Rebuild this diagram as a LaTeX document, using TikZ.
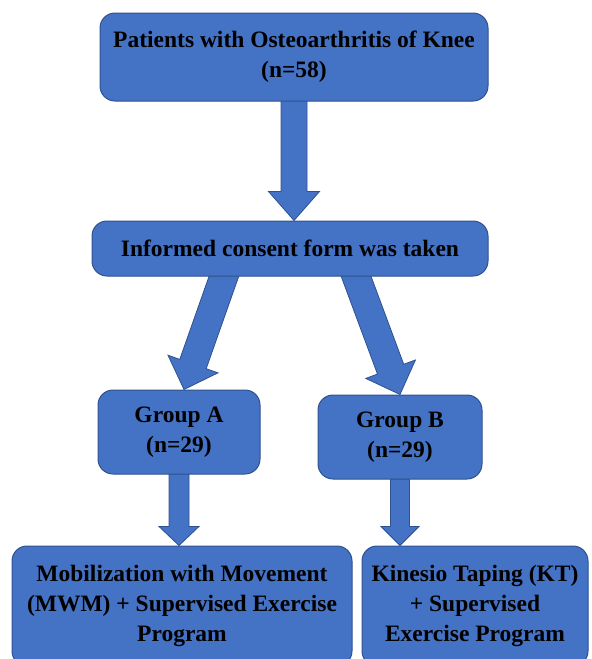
\documentclass[tikz,border=0pt]{standalone}
\usepackage{fontspec}
\setmainfont{Liberation Serif}
\usepackage{xcolor}
\usepackage{tikz}
\usetikzlibrary{positioning, calc, backgrounds}
\definecolor{boxblue}{HTML}{4472C4}
\definecolor{boxline}{HTML}{2F528F}
\tikzstyle{stage} = [rectangle, rounded corners=15pt, draw=boxline, line width=1pt, fill=boxblue, text=black, align=center, inner sep=0pt, font=\bfseries\fontsize{23.5}{30}\selectfont]
\tikzstyle{fatarrow} = [draw=boxline, line width=0.8pt, fill=boxblue, line join=miter]
% block arrow: shaft half width, head half width, head length, from, to
\newcommand{\blockarrow}[5]{%
  \coordinate (ba-tip) at (#5);
  \coordinate (ba-s) at ($(#4)!-8pt!(ba-tip)$);
  \coordinate (ba-h) at ($(ba-tip)!#3pt!(ba-s)$);
  \filldraw[fatarrow] ($(ba-s)!#1pt!90:(ba-tip)$) -- ($(ba-h)!#1pt!-90:(ba-s)$) -- ($(ba-h)!#2pt!-90:(ba-s)$) -- (ba-tip) -- ($(ba-h)!#2pt!90:(ba-s)$) -- ($(ba-h)!#1pt!90:(ba-s)$) -- ($(ba-s)!#1pt!-90:(ba-tip)$) -- cycle;
}

\begin{document}
\begin{tikzpicture}[x=1pt, y=-1pt]
\useasboundingbox (0,0) rectangle (592,659);

\node (patients) [stage, minimum width=388pt, minimum height=88pt] at (294,57) {Patients with Osteoarthritis of Knee\\(n=58)};
\node (consent) [stage, minimum width=396pt, minimum height=55pt, below=119pt of patients, xshift=-4pt] {Informed consent form was taken};
\node (groupA) [stage, minimum width=162pt, minimum height=84pt, below=113pt of consent, xshift=-111pt] {Group A\\(n=29)};
\node (groupB) [stage, minimum width=164pt, minimum height=84pt, below=118pt of consent, xshift=110pt] {Group B\\(n=29)};
\node (mwm) [stage, minimum width=340pt, minimum height=120pt, below=71pt of groupA, xshift=3pt] {Mobilization with Movement\\(MWM) + Supervised Exercise\\Program};
\node (kt) [stage, minimum width=226pt, minimum height=120pt, below=66pt of groupB, xshift=75pt] {Kinesio Taping (KT)\\+ Supervised\\Exercise Program};

\coordinate (splitA) at ($(consent.south west)!1/3!(consent.south east)$);
\coordinate (splitB) at ($(consent.south west)!2/3!(consent.south east)$);

\begin{scope}[on background layer]
\blockarrow{13}{25.5}{29}{patients.south}{patients.south |- consent.north}
\blockarrow{14}{26.5}{27}{splitA}{$(groupA.north)+(5,0)$}
\blockarrow{14}{26.5}{27}{splitB}{groupB.north}
\blockarrow{10}{20}{19}{groupA.south}{groupA.south |- mwm.north}
\blockarrow{9.5}{19}{19}{groupB.south}{groupB.south |- kt.north}
\end{scope}

\end{tikzpicture}
\end{document}
